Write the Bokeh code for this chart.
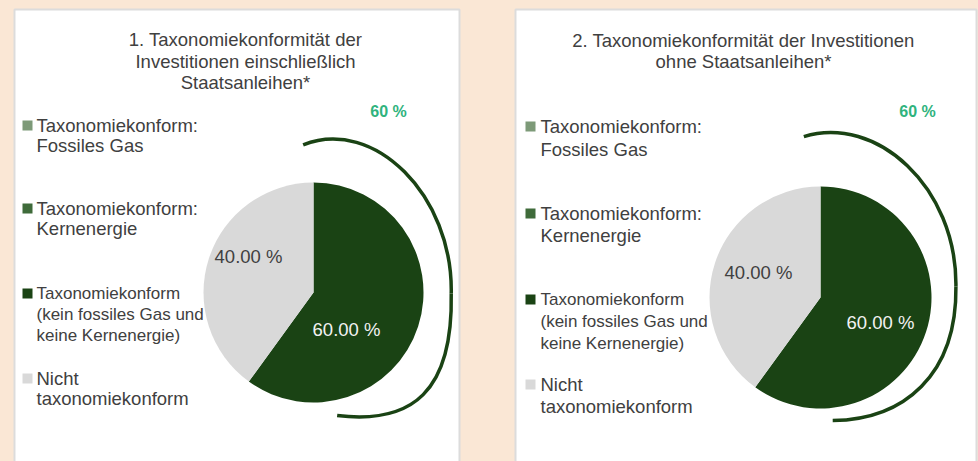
from bokeh.plotting import figure
from bokeh.models import Range1d
from bokeh.embed import file_html
from bokeh.resources import INLINE
from bokeh.core.properties import value
import math

# ---------------- data ----------------
categories = [
    "Taxonomiekonform: Fossiles Gas",
    "Taxonomiekonform: Kernenergie",
    "Taxonomiekonform (kein fossiles Gas und keine Kernenergie)",
    "Nicht taxonomiekonform",
]
legend_lines = [
    ["Taxonomiekonform:", "Fossiles Gas"],
    ["Taxonomiekonform:", "Kernenergie"],
    ["Taxonomiekonform", "(kein fossiles Gas und", "keine Kernenergie)"],
    ["Nicht", "taxonomiekonform"],
]
colors = ["#7d9a78", "#3f6b3a", "#1a4314", "#d9d9d9"]
values_incl = [0.0, 0.0, 60.0, 40.0]   # 1. einschließlich Staatsanleihen
values_excl = [0.0, 0.0, 60.0, 40.0]   # 2. ohne Staatsanleihen
titles = [
    ["1. Taxonomiekonformität der", "Investitionen einschließlich", "Staatsanleihen*"],
    ["2. Taxonomiekonformität der Investitionen", "ohne Staatsanleihen*"],
]
aligned_totals = ["60 %", "60 %"]

# ---------------- layout (pixel based) ----------------
W, H = 978, 461
OX, OY = 0, 0


def Y(py):
    return (OY + H) - py


FONT = value("Liberation Sans")
TXT = "#404040"
BG = "#fae7d5"

panels = [
    dict(rect=(14, 459, 9), values=values_incl, title=titles[0], title_x=245,
         title_y=[39, 61, 82], cx=313, cy=292, r=110,
         sq_x=27, txt_x=36,
         leg_y=[[125, 145], [208, 228], [293, 314, 335], [378, 398]],
         lab_off={2: (33, 37), 3: (-65, -36)},
         tot=(388, 111),
         arc=[[(-0.094, 1.343), (0.55, 1.6), (1.27, 0.88), (1.252, -0.009)],
              [(1.252, -0.009), (1.27, -0.9), (0.9, -1.2), (0.215, -1.118)]]),
    dict(rect=(515, 976, 9), values=values_excl, title=titles[1], title_x=743,
         title_y=[40, 61], cx=820, cy=297, r=111,
         sq_x=530, txt_x=540,
         leg_y=[[126, 149], [213, 235], [299, 321, 343], [384, 406]],
         lab_off={2: (60, 25), 3: (-62, -25)},
         tot=(917, 111),
         arc=[[(-0.15, 1.45), (0.5, 1.65), (1.23, 1.0), (1.22, 0.1)],
              [(1.22, 0.1), (1.23, -0.7), (0.75, -1.1), (0.11, -1.108)]]),
]

p = figure(width=W, height=H, output_backend="svg", toolbar_location=None,
           x_range=Range1d(OX, OX + W), y_range=Range1d(0, H),
           x_axis_type=None, y_axis_type=None, min_border=0,
           background_fill_color=BG, border_fill_color=BG)
p.outline_line_color = None
p.grid.visible = False

for k, pn in enumerate(panels):
    l, r_, t = pn["rect"]
    p.quad(left=l, right=r_, top=Y(t), bottom=-20, fill_color="white",
           line_color="#dcdcdc", line_width=2)

    # title
    for line, ty in zip(pn["title"], pn["title_y"]):
        p.text(x=[pn["title_x"]], y=[Y(ty)], text=[line], text_font=FONT,
               text_font_size="18.5px", text_color=TXT, text_align="center",
               text_baseline="middle")

    # pie
    vals = pn["values"]
    total = sum(vals)
    start = math.pi / 2
    cx, cy, rad = pn["cx"], Y(pn["cy"]), pn["r"]
    for i, v in enumerate(vals):
        if v <= 0:
            continue
        end = start - 2 * math.pi * v / total
        p.wedge(x=[cx], y=[cy], radius=rad, start_angle=[start], end_angle=[end],
                direction="clock", fill_color=colors[i], line_color=None)
        dx, dy = pn["lab_off"][i]
        p.text(x=[pn["cx"] + dx], y=[Y(pn["cy"] + dy)], text=[f"{v:.2f} %"],
               text_font=FONT, text_font_size="18.5px",
               text_color="#f2f2f2" if i == 2 else TXT,
               text_align="center", text_baseline="middle")
        start = end

    # legend
    for i, lines in enumerate(legend_lines):
        ys = pn["leg_y"][i]
        p.rect(x=[pn["sq_x"]], y=[Y(ys[0])], width=10, height=10,
               fill_color=colors[i], line_color=None)
        fs = "17px" if i == 2 else "18.5px"
        for line, ly in zip(lines, ys):
            p.text(x=[pn["txt_x"]], y=[Y(ly)], text=[line], text_font=FONT,
                   text_font_size=fs, text_color=TXT, text_align="left",
                   text_baseline="middle")

    # bracket arc around aligned share
    for seg in pn["arc"]:
        pts = [(cx + u * rad, cy + w * rad) for (u, w) in seg]
        p.bezier(x0=[pts[0][0]], y0=[pts[0][1]], cx0=[pts[1][0]], cy0=[pts[1][1]],
                 cx1=[pts[2][0]], cy1=[pts[2][1]], x1=[pts[3][0]], y1=[pts[3][1]],
                 line_color="#1a4314", line_width=3.5)

    p.text(x=[pn["tot"][0]], y=[Y(pn["tot"][1])], text=[aligned_totals[k]],
           text_font=FONT, text_font_size="16px", text_font_style="bold",
           text_color="#2fb37d", text_align="center", text_baseline="middle")

html = file_html(p, INLINE)
html = html.replace("</head>", "<style>html,body{background:%s;}</style></head>" % BG, 1)
open("out.html", "w").write(html)
